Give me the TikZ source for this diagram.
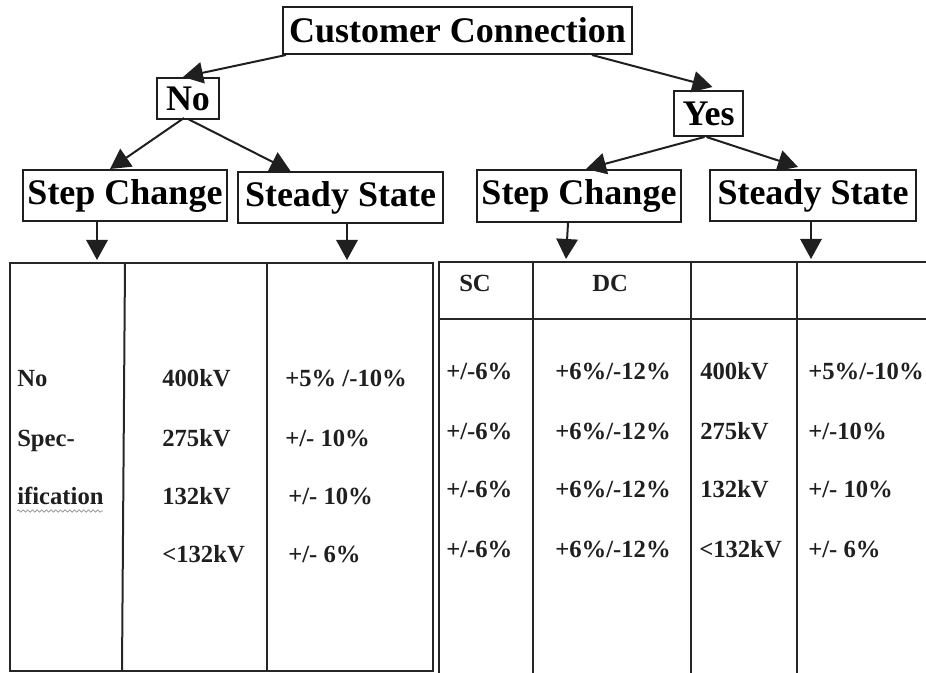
\documentclass[tikz,border=0pt]{standalone}
\usepackage{fontspec}
\setmainfont{Liberation Serif}
\usetikzlibrary{arrows.meta,calc,decorations.pathmorphing}
\tikzset{
  headbox/.style={draw=black!88, line width=1.5pt, inner sep=0pt, align=center,
    font=\fontsize{27}{32}\selectfont\bfseries},
  conn/.style={draw=black!88, line width=1.5pt, -{Triangle[length=15pt,width=16pt]}},
  grid/.style={draw=black!85, line width=1.5pt},
  cell/.style={anchor=base west, inner sep=0pt, font=\fontsize{18.5}{22}\selectfont\bfseries, text=black!88},
}
\begin{document}
\begin{tikzpicture}[x=0.75pt,y=-0.75pt]
\useasboundingbox (0,0) rectangle (926,673);
% boxes
\node[headbox, minimum width=349*0.75pt, minimum height=47*0.75pt] (cc) at (457.5,30.5) {Customer Connection};
\node[headbox, minimum width=62*0.75pt, minimum height=41*0.75pt] (no) at (188,98.5) {No};
\node[headbox, minimum width=69*0.75pt, minimum height=45*0.75pt] (yes) at (708.5,113.5) {Yes};
\node[headbox, minimum width=204*0.75pt, minimum height=51*0.75pt] (scl) at (125,195.5) {Step Change};
\node[headbox, minimum width=205*0.75pt, minimum height=51*0.75pt] (ssl) at (340.5,197.5) {Steady State};
\node[headbox, minimum width=204*0.75pt, minimum height=52*0.75pt] (scr) at (579,196) {Step Change};
\node[headbox, minimum width=206*0.75pt, minimum height=51*0.75pt] (ssr) at (813,195.5) {Steady State};
% tree connectors
\draw[conn] ($(cc.south west)+(4,0)$) -- ($(no.north)+(-5,0)$);
\draw[conn] ($(cc.south west)+(310,0)$) -- ($(yes.north)+(4,-3)$);
\draw[conn] ($(no.south)+(-4,-2)$) -- ($(scl.north)+(-15,0)$);
\draw[conn] ($(no.south)+(0,-1)$) -- ($(ssl.north)+(-50,0)$);
\draw[conn] ($(yes.south)+(-4,0)$) -- ($(scr.north)+(7,0)$);
\draw[conn] ($(yes.south)+(-2,0)$) -- ($(ssr.north)+(-15,-2)$);
% targets on tables
\coordinate (t1) at (97,260);
\coordinate (t2) at (347,260);
\coordinate (t3) at (566,259);
\coordinate (t4) at (811,259);
\draw[conn] (scl.south -| t1) -- (t1);
\draw[conn] (ssl.south -| t2) -- (t2);
\draw[conn] ($(scr.south -| t3)+(2,0)$) -- (t3);
\draw[conn] (ssr.south -| t4) -- (t4);
% left table
\draw[grid] (10,263) rectangle (433,671);
\draw[grid] (125,263) -- (122,671);
\draw[grid] (267,263) -- (267,671);
% right table
\draw[grid] (926,262) -- (439,262) -- (439,673);
\draw[grid] (533,262) -- (533,673);
\draw[grid] (691,262) -- (691,673);
\draw[grid] (797,262) -- (797,673);
\draw[grid] (439,319) -- (926,319);
% left table text
\node[cell] (l11) at (17,387) {No};
\node[cell] (l21) at (17,447) {Spec-};
\node[cell] (l31) at (17,505) {ification};
\draw[black!45, line width=0.5pt, decorate, decoration={snake, amplitude=0.9, segment length=3.5}] (17,511) -- (103,511);
\node[cell] (l12) at (162,387) {400kV};
\node[cell] (l22) at (162,447) {275kV};
\node[cell] (l32) at (162,505) {132kV};
\node[cell] (l42) at (162,563) {<132kV};
\node[cell] (l13) at (285,387) {+5\% /-10\%};
\node[cell] (l23) at (285,447) {+/- 10\%};
\node[cell] (l33) at (288,505) {+/- 10\%};
\node[cell] (l43) at (288,563) {+/- 6\%};
% right table text
\node[cell] (hsc) at (459,292) {SC};
\node[cell] (hdc) at (592,292) {DC};
\node[cell] (r11) at (446,380) {+/-6\%};
\node[cell] (r21) at (446,440) {+/-6\%};
\node[cell] (r31) at (446,498) {+/-6\%};
\node[cell] (r41) at (446,558) {+/-6\%};
\node[cell] (r12) at (555,380) {+6\%/-12\%};
\node[cell] (r22) at (555,440) {+6\%/-12\%};
\node[cell] (r32) at (555,498) {+6\%/-12\%};
\node[cell] (r42) at (555,558) {+6\%/-12\%};
\node[cell] (r13) at (700,380) {400kV};
\node[cell] (r23) at (700,440) {275kV};
\node[cell] (r33) at (700,498) {132kV};
\node[cell] (r43) at (699,558) {<132kV};
\node[cell] (r14) at (808,380) {+5\%/-10\%};
\node[cell] (r24) at (808,440) {+/-10\%};
\node[cell] (r34) at (808,498) {+/- 10\%};
\node[cell] (r44) at (808,558) {+/- 6\%};
\end{tikzpicture}
\end{document}
